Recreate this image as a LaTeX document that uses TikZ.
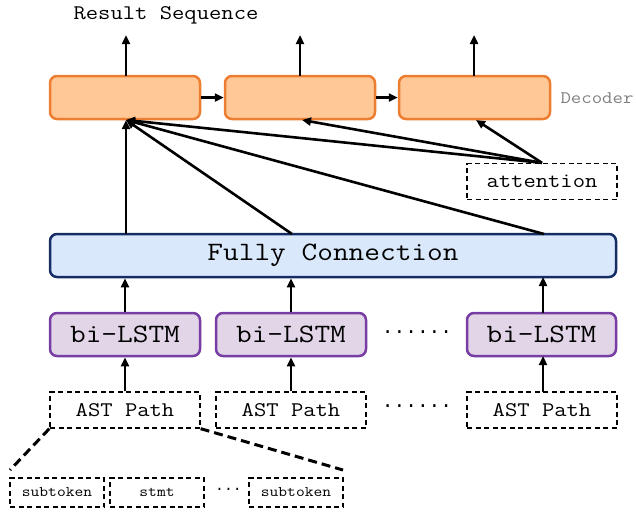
\documentclass[tikz,border=0pt]{standalone}
\usepackage{fontspec}
\setmainfont{Latin Modern Mono}[FakeStretch=1.15]
\newfontfamily\dotfont{Liberation Mono}
\usetikzlibrary{arrows.meta}
\definecolor{decfill}{RGB}{255,200,150}
\definecolor{decdraw}{RGB}{237,125,49}
\definecolor{fcfill}{RGB}{218,232,252}
\definecolor{fcdraw}{RGB}{20,45,100}
\definecolor{lsfill}{RGB}{225,213,231}
\definecolor{lsdraw}{RGB}{120,60,165}
\tikzset{
  decbox/.style={draw=decdraw,fill=decfill,line width=2.5pt,rounded corners=7pt,minimum width=150pt,minimum height=43pt,inner sep=0pt},
  fcbox/.style={draw=fcdraw,fill=fcfill,line width=2.5pt,rounded corners=7pt,minimum width=566pt,minimum height=43pt,inner sep=0pt,font=\fontsize{26.5}{30}\selectfont},
  lsbox/.style={draw=lsdraw,fill=lsfill,line width=2.5pt,rounded corners=7pt,minimum width=150pt,minimum height=43pt,inner sep=0pt,font=\fontsize{26.5}{30}\selectfont},
  dbox/.style={draw,dashed,line width=1.3pt,dash pattern=on 5pt off 3.5pt,minimum width=150pt,minimum height=36pt,inner sep=0pt,font=\fontsize{20.8}{24}\selectfont},
  sbox/.style={draw,dashed,line width=1.3pt,dash pattern=on 5pt off 3.5pt,minimum width=94pt,minimum height=29pt,inner sep=0pt,font=\fontsize{14.8}{17}\selectfont},
  dots/.style={font=\dotfont\fontsize{19.5}{22}\selectfont},
  arr/.style={line width=2.6pt,-{Triangle[length=9pt,width=8pt]}},
  thick dash/.style={line width=3pt,dash pattern=on 9pt off 5pt},
}
\begin{document}
\begin{tikzpicture}[x=1pt,y=-1pt]
\useasboundingbox (0,0) rectangle (636,512);
% decoder
\node[decbox] (d1) at (125,97.5) {};
\node[decbox] (d2) at (300,97.5) {};
\node[decbox,minimum width=151pt] (d3) at (474.5,97.5) {};
\node[font=\fontsize{20.8}{24}\selectfont] (res) at (166,15) {Result Sequence};
\node[font=\fontsize{17.6}{20}\selectfont,text=gray] (dec) at (597,98) {Decoder};
\coordinate (o1) at (126,35);
\coordinate (o2) at (300,35);
\coordinate (o3) at (474,35);
\draw[arr] (126,76) -- (o1);
\draw[arr] (300,76) -- (o2);
\draw[arr] (474,76) -- (o3);
\draw[arr] (d1.east) -- (d2.west);
\draw[arr] (d2.east) -- (d3.west);
% attention
\node[dbox] (att) at (542,181.5) {attention};
\coordinate (a1) at (126,120);
\coordinate (a2) at (302,120);
\coordinate (a3) at (476,120);
\draw[arr] (att.north) -- (a3);
\draw[arr] (att.north) -- (a2);
\draw[arr] (att.north) -- (a1);
% fully connection
\node[fcbox] (fc) at (333,255.5) {Fully Connection};
\draw[arr] (126,234) -- (a1);
\draw[arr] (292,234) -- (a1);
\draw[arr] (544,234) -- (a1);
% bi-LSTM
\node[lsbox] (l1) at (125,334.5) {bi-LSTM};
\node[lsbox] (l2) at (291,334.5) {bi-LSTM};
\node[lsbox,minimum width=149pt] (l3) at (541.5,334.5) {bi-LSTM};
\node[dots] (dots1) at (417,334) {······};
\draw[arr] (l1.north) -- (l1.north |- fc.south);
\draw[arr] (l2.north) -- (l2.north |- fc.south);
\draw[arr] (543,313) -- (543,277);
% AST Path
\node[dbox] (p1) at (125,410) {AST Path};
\node[dbox] (p2) at (291,410) {AST Path};
\node[dbox] (p3) at (542,410) {AST Path};
\node[dots] (dots2) at (417,408) {······};
\draw[arr] (p1.north) -- (l1.south);
\draw[arr] (p2.north) -- (l2.south);
\draw[arr] (543,392) -- (543,356);
% subtokens
\node[sbox] (s1) at (57,492.5) {subtoken};
\node[sbox] (s2) at (157,492.5) {stmt};
\node[sbox] (s3) at (296,492.5) {subtoken};
\node[dots,font=\dotfont\fontsize{14.8}{17}\selectfont] (dots3) at (228.5,491) {···};
\coordinate (e1) at (10,470);
\coordinate (e2) at (343,470);
\draw[thick dash] (p1.south west) -- (e1);
\draw[thick dash] (p1.south east) -- (e2);
\end{tikzpicture}
\end{document}
